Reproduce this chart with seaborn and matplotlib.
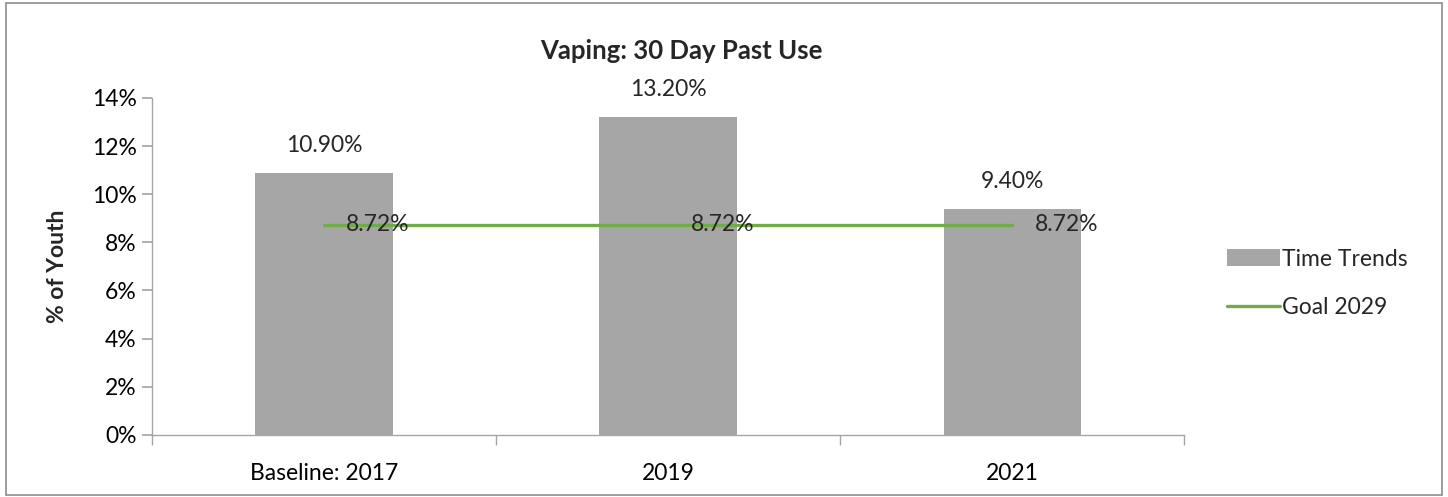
import matplotlib
matplotlib.use("Agg")
import matplotlib.pyplot as plt
import seaborn as sns
import numpy as np
import pandas as pd
from matplotlib.patches import Rectangle, Patch
from matplotlib.lines import Line2D
from matplotlib.ticker import PercentFormatter, FixedLocator

categories = ["Baseline: 2017", "2019", "2021"]
time_trends = [10.90, 13.20, 9.40]
goal_2029 = [8.72, 8.72, 8.72]
yticks = [0, 2, 4, 6, 8, 10, 12, 14]

sns.set_theme(style="white")
plt.rcParams['font.family'] = ['Lato', 'DejaVu Sans']

FS = 16.5
fig = plt.figure(figsize=(14.48, 4.97), dpi=100)
ax = fig.add_axes([0.105, 0.125, 0.713, 0.678])

df = pd.DataFrame({"cat": categories, "val": time_trends})
sns.barplot(data=df, x="cat", y="val", color="#A6A6A6", width=0.4,
            saturation=1, ax=ax, edgecolor="none")
for c in ax.containers:
    ax.bar_label(c, labels=[f"{v:.2f}%" for v in time_trends], padding=12, fontsize=FS)

xs = np.arange(len(categories))
sns.lineplot(x=xs, y=goal_2029, color="#70AD47", linewidth=2.4, ax=ax)
for x, g in zip(xs, goal_2029):
    ax.annotate(f"{g:.2f}%", (x, g), xytext=(16, 0), textcoords="offset points",
                ha="left", va="center", fontsize=FS)

ax.set_xlim(-0.5, 2.5)
ax.set_ylim(0, 14)
ax.set_yticks(yticks)
ax.yaxis.set_major_formatter(PercentFormatter(decimals=0))
ax.set_xlabel("")
ax.set_ylabel("% of Youth", fontsize=FS, fontweight="bold", labelpad=17)
ax.set_title("Vaping: 30 Day Past Use", fontsize=18.5, fontweight="bold", pad=28, x=0.513)

for s in ["top", "right"]:
    ax.spines[s].set_visible(False)
for s in ["left", "bottom"]:
    ax.spines[s].set_color("#A6A6A6")
    ax.spines[s].set_linewidth(1)

ax.tick_params(axis="y", which="major", left=True, length=7, color="#A6A6A6",
               labelsize=FS, direction="out", pad=4)
ax.tick_params(axis="x", which="major", bottom=False, labelsize=FS, pad=14)
ax.xaxis.set_minor_locator(FixedLocator([-0.5, 0.5, 1.5, 2.5]))
ax.tick_params(axis="x", which="minor", bottom=True, length=7, color="#A6A6A6",
               direction="out")
for lbl in ax.get_xticklabels() + ax.get_yticklabels():
    lbl.set_color("black")

handles = [Patch(facecolor="#A6A6A6", edgecolor="none", label="Time Trends"),
           Line2D([0], [0], color="#70AD47", linewidth=2.4, label="Goal 2029")]
fig.legend(handles=handles, loc="center left", bbox_to_anchor=(0.833, 0.43),
           frameon=False, fontsize=FS, handlelength=2.3, handletextpad=0.1,
           labelspacing=1.2)

fig.patches.append(Rectangle((0.004, 0.004), 0.992, 0.99, transform=fig.transFigure,
                             fill=False, edgecolor="#8C8C8C", linewidth=1.2))

fig.savefig("out.png", dpi=100)
